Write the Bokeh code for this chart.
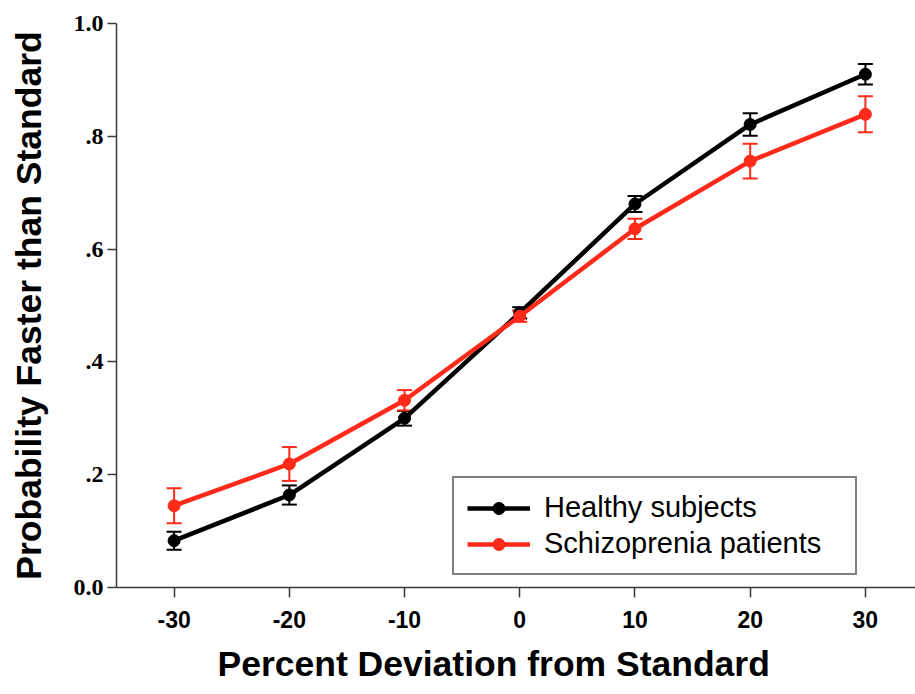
from bokeh.plotting import figure
from bokeh.models import (ColumnDataSource, Whisker, TeeHead, FixedTicker,
                          Legend, LegendItem, Range1d, Title)
from bokeh.embed import file_html
from bokeh.resources import INLINE

# ---- data ----
deviation = [-30, -20, -10, 0, 10, 20, 30]
healthy = [0.083, 0.164, 0.300, 0.487, 0.680, 0.821, 0.910]
healthy_err = [0.016, 0.017, 0.013, 0.010, 0.014, 0.020, 0.018]
schizo = [0.145, 0.219, 0.332, 0.481, 0.636, 0.756, 0.839]
schizo_err = [0.031, 0.030, 0.018, 0.010, 0.018, 0.031, 0.032]

x_ticks = [-30, -20, -10, 0, 10, 20, 30]
x_tick_labels = ["-30", "-20", "-10", "0", "10", "20", "30"]
y_ticks = [0.0, 0.2, 0.4, 0.6, 0.8, 1.0]
y_tick_labels = ["0.0", ".2", ".4", ".6", ".8", "1.0"]

series_names = ["Healthy subjects", "Schizoprenia patients"]
series_colors = ["#000000", "#ff2a1a"]

x_title = "Percent Deviation from Standard"
y_title = "Probability Faster than Standard"

p = figure(width=915, height=694,
           x_range=Range1d(-35, 34.35), y_range=Range1d(0, 1),
           output_backend="svg", toolbar_location=None,
           min_border_left=116, min_border_right=0,
           min_border_top=23, min_border_bottom=107)
p.background_fill_color = "white"
p.border_fill_color = "white"
p.outline_line_color = None
p.xgrid.visible = False
p.ygrid.visible = False

# axes
for ax in (p.xaxis[0], p.yaxis[0]):
    ax.axis_line_color = "#3a3a3a"
    ax.axis_line_width = 1.5
    ax.major_tick_line_color = "#3a3a3a"
    ax.major_tick_line_width = 1.5
    ax.major_tick_in = 0
    ax.minor_tick_line_color = None
    ax.major_label_text_color = "black"
    ax.axis_label_text_color = "black"
    ax.axis_label_text_font = "Liberation Sans"
    ax.axis_label_text_font_style = "bold"
    ax.axis_label_text_font_size = "35.5px"

p.xaxis.ticker = FixedTicker(ticks=x_ticks)
p.xaxis.major_label_overrides = dict(zip(x_ticks, x_tick_labels))
p.xaxis.major_tick_out = 10
p.xaxis.major_label_text_font = "Liberation Sans"
p.xaxis.major_label_text_font_style = "bold"
p.xaxis.major_label_text_font_size = "23px"
p.xaxis.major_label_standoff = 13

p.yaxis.ticker = FixedTicker(ticks=y_ticks)
p.yaxis.major_label_overrides = dict(zip(y_ticks, y_tick_labels))
p.yaxis.major_tick_out = 9
p.yaxis.major_label_text_font = "Liberation Serif"
p.yaxis.major_label_text_font_style = "bold"
p.yaxis.major_label_text_font_size = "24px"
p.yaxis.major_label_standoff = 4
p.yaxis.axis_label = y_title
p.yaxis.axis_label_standoff = 22

# x-axis title, placed as in the reference (slightly left of centre)
p.add_layout(Title(text=x_title, align="left", offset=101, standoff=22,
                   text_font="Liberation Sans", text_font_style="bold",
                   text_font_size="35.5px", text_color="black"), "below")

items = []
for name, vals, errs, col in zip(series_names, [healthy, schizo],
                                 [healthy_err, schizo_err], series_colors):
    src = ColumnDataSource(dict(
        x=deviation, y=vals,
        upper=[v + e for v, e in zip(vals, errs)],
        lower=[v - e for v, e in zip(vals, errs)]))
    w = Whisker(base="x", upper="upper", lower="lower", source=src,
                line_color=col, line_width=2,
                upper_head=TeeHead(size=15, line_color=col, line_width=2),
                lower_head=TeeHead(size=15, line_color=col, line_width=2))
    p.add_layout(w)
    rl = p.line("x", "y", source=src, line_color=col, line_width=4.5)
    rs = p.scatter("x", "y", source=src, size=12, fill_color=col,
                   line_color=col)
    items.append(LegendItem(label=name, renderers=[rl, rs]))

legend = Legend(items=items, location=(336, 12))
legend.border_line_color = "black"
legend.border_line_width = 2
legend.background_fill_color = "white"
legend.background_fill_alpha = 1.0
legend.label_text_font = "Liberation Sans"
legend.label_text_font_size = "29px"
legend.label_text_color = "black"
legend.glyph_width = 63
legend.glyph_height = 30
legend.label_height = 30
legend.label_width = 298
legend.spacing = 3
legend.padding = 13
legend.label_standoff = 14
legend.margin = 0
p.add_layout(legend)

open("out.html", "w").write(file_html(p, INLINE))
